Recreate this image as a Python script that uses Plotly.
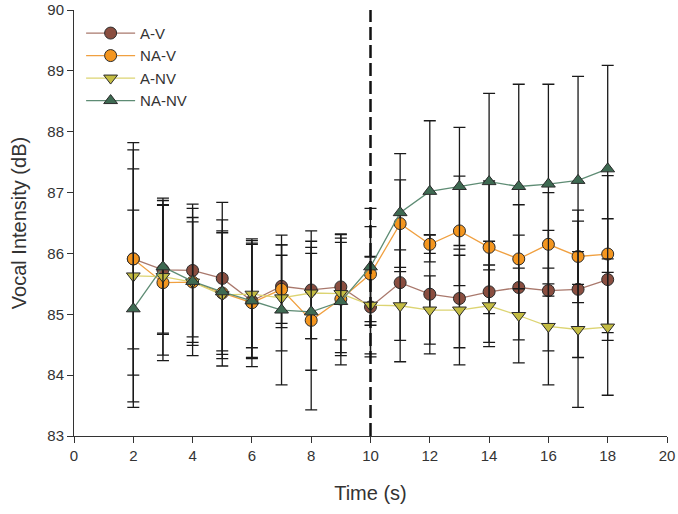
import plotly.graph_objs as go

time_s = [2, 3, 4, 5, 6, 7, 8, 9, 10, 11, 12, 13, 14, 15, 16, 17, 18]

av_mean = [85.91, 85.73, 85.72, 85.59, 85.22, 85.46, 85.40, 85.45, 85.12,
           85.52, 85.33, 85.26, 85.37, 85.44, 85.39, 85.41, 85.57]
av_err = [1.48, 1.06, 1.09, 1.25, 0.95, 0.68, 0.80, 0.87, 0.82,
          0.95, 0.98, 0.81, 0.83, 0.86, 0.99, 1.12, 1.00]

nav_mean = [85.91, 85.52, 85.53, 85.35, 85.19, 85.41, 84.90, 85.25, 85.66,
            86.49, 86.15, 86.37, 86.10, 85.91, 86.15, 85.95, 85.99]
nav_err = [1.91, 1.28, 1.21, 1.20, 1.05, 0.56, 1.47, 0.93, 0.78,
           0.72, 0.15, 0.90, 1.09, 0.89, 0.85, 0.76, 1.29]

anv_mean = [85.63, 85.62, 85.53, 85.32, 85.33, 85.27, 85.35, 85.34, 85.15,
            85.14, 85.07, 85.07, 85.14, 84.98, 84.80, 84.75, 84.79]
anv_err = [2.07, 1.29, 0.99, 1.05, 0.88, 0.87, 0.75, 0.97, 0.80,
           0.92, 0.56, 0.90, 0.67, 0.78, 0.96, 1.28, 1.12]

nanv_mean = [85.09, 85.78, 85.54, 85.37, 85.22, 85.07, 85.04, 85.21, 85.78,
             86.67, 87.02, 87.10, 87.18, 87.10, 87.14, 87.20, 87.39]
nanv_err = [1.62, 1.09, 1.05, 0.97, 0.93, 1.23, 0.96, 1.04, 0.96,
            0.97, 1.16, 0.97, 1.45, 1.68, 1.64, 1.71, 1.70]

names = ["A-V", "NA-V", "A-NV", "NA-NV"]
means = [av_mean, nav_mean, anv_mean, nanv_mean]
errs = [av_err, nav_err, anv_err, nanv_err]
symbols = ["circle", "circle", "triangle-down", "triangle-up"]
fill_colors = ["#8a4e40", "#f4961f", "#c4bc42", "#3e6a52"]
line_colors = ["#a9786c", "#f0a040", "#dcd472", "#5e8c74"]

font_family = "Liberation Sans, Arial, sans-serif"

traces = [
    go.Scatter(
        x=time_s,
        y=means[i],
        name=names[i],
        mode="lines+markers",
        line=dict(color=line_colors[i], width=1.3),
        marker=dict(
            symbol=symbols[i],
            size=12,
            color=fill_colors[i],
            line=dict(color="#2b2b2b", width=1),
        ),
        error_y=dict(
            type="data",
            array=errs[i],
            visible=True,
            color="#1a1a1a",
            thickness=1.3,
            width=6,
        ),
    )
    for i in range(4)
]

fig = go.Figure(
    data=traces,
    layout=go.Layout(
        width=678,
        height=514,
        margin=dict(l=74, r=11, t=10, b=78),
        plot_bgcolor="white",
        paper_bgcolor="white",
        font=dict(family=font_family, size=15, color="#333333"),
        showlegend=True,
        legend=dict(
            x=0.012,
            y=0.984,
            xanchor="left",
            yanchor="top",
            bgcolor="rgba(0,0,0,0)",
            font=dict(size=15, color="#333333"),
            tracegroupgap=0,
            itemwidth=49,
        ),
        xaxis=dict(
            range=[0, 20],
            dtick=2,
            showgrid=False,
            zeroline=False,
            showline=True,
            linecolor="#333333",
            linewidth=1,
            ticks="outside",
            ticklen=6,
            tickcolor="#333333",
            automargin="bottom",
            title=dict(text="Time (s)", font=dict(size=20), standoff=22),
        ),
        yaxis=dict(
            range=[83, 90],
            dtick=1,
            showgrid=False,
            zeroline=False,
            showline=True,
            linecolor="#333333",
            linewidth=1,
            ticks="outside",
            ticklen=6,
            tickcolor="#333333",
            automargin=False,
            title=dict(text="Vocal Intensity (dB)", font=dict(size=20)),
        ),
        shapes=[
            dict(
                type="line",
                xref="x",
                yref="paper",
                x0=10,
                x1=10,
                y0=0,
                y1=1,
                line=dict(color="#111111", width=2.5, dash="13px,5px"),
                layer="above",
            )
        ],
    ),
)

# drop the browser's default 8px body margin so the figure sits at 0,0
fig.write_html(
    "out.html",
    config={"displayModeBar": False},
    post_script="document.body.style.margin = '0';",
)
